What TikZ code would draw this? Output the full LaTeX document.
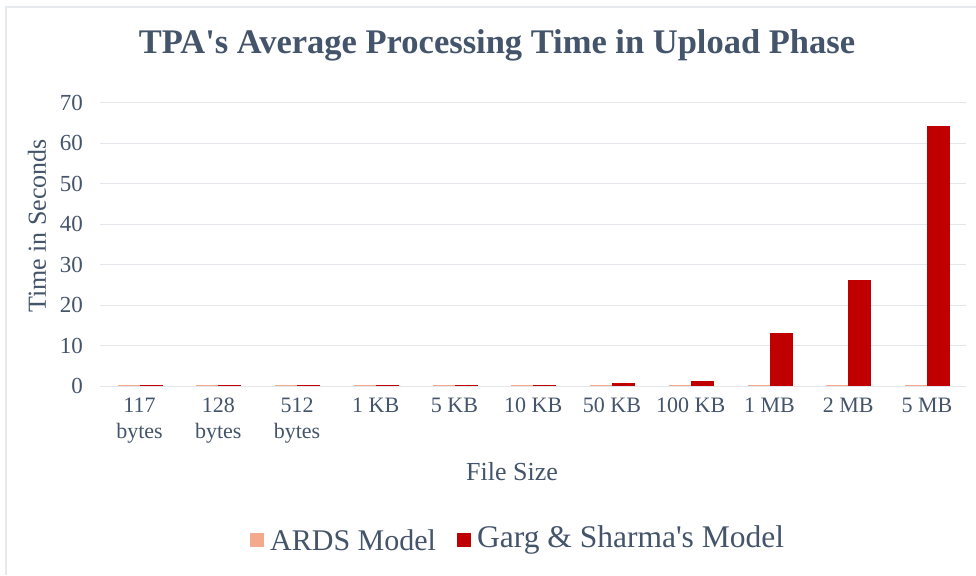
\documentclass[tikz,border=0pt]{standalone}
\usepackage{fontspec}
\setmainfont{Liberation Serif}
\definecolor{txt}{HTML}{44546A}
\definecolor{grid}{HTML}{E3E7EC}
\definecolor{ards}{HTML}{F4A98F}
\definecolor{garg}{HTML}{C00000}
\definecolor{frame}{HTML}{E6E9EE}
\begin{document}
\begin{tikzpicture}[x=1pt,y=-1pt,
  tick/.style={text=txt,font=\fontsize{23}{25}\selectfont,inner sep=0pt},
  xlab/.style={text=txt,font=\fontsize{22}{26}\selectfont,align=center,anchor=north,inner sep=0pt},
  axtitle/.style={text=txt,font=\fontsize{26}{28}\selectfont,inner sep=0pt},
  legtext/.style={text=txt,anchor=west,inner sep=0pt}]
\useasboundingbox (0,0) rectangle (976,575);
\fill[white] (0,0) rectangle (976,575);
% frame
\draw[frame,line width=1.5pt] (6,575) -- (6,7) -- (976,7);
% title
\node[text=txt,font=\fontsize{34.5}{36}\selectfont\bfseries,inner sep=0pt] (title) at (497,45) {TPA\textquotesingle s Average Processing Time in Upload Phase};
% grid and y ticks
\foreach \v in {0,10,...,70}{
  \pgfmathsetmacro{\yy}{386-4.043*\v}
  \draw[grid,line width=1pt] (100,\yy) -- (966,\yy);
  \node[tick,anchor=east] (yt\v) at (83,\yy) {\v};
}
% bars
\foreach \i/\r/\lab in {0/0.3/{117\\bytes},1/0.3/{128\\bytes},2/0.3/{512\\bytes},3/0.3/{1 KB},4/0.3/{5 KB},5/0.3/{10 KB},6/0.7/{50 KB},7/1.2/{100 KB},8/13.1/{1 MB},9/26.3/{2 MB},10/64.2/{5 MB}}{
  \pgfmathsetmacro{\c}{139.5+78.75*\i}
  \fill[ards] (\c-22,386) rectangle (\c,386-1.4);
  \fill[garg] (\c,386) rectangle (\c+23,386-4.043*\r);
  \node[xlab] (xl\i) at (\c,398) {\lab};
}
% axis titles
\node[axtitle,rotate=90] (ytitle) at (37,226) {Time in Seconds};
\node[axtitle] (xtitle) at (512,472) {File Size};
% legend
\fill[ards] (250,533) rectangle (264,547);
\node[legtext,font=\fontsize{30}{32}\selectfont] (l1) at (270,540) {ARDS Model};
\fill[garg] (457,533) rectangle (471,547);
\node[legtext,font=\fontsize{31.5}{33}\selectfont] (l2) at (477,540) {Garg \& Sharma\textquotesingle s Model};
\end{tikzpicture}
\end{document}
